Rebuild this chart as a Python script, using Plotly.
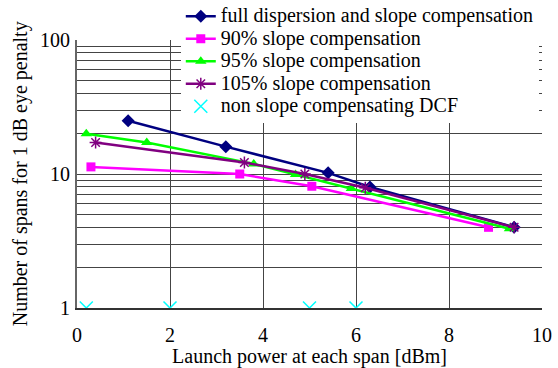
import plotly.graph_objects as go

# Data
full_x = [1.1, 3.2, 5.4, 6.3, 9.4]
full_y = [25, 16, 10.2, 8.0, 4.0]

s90_x = [0.3, 3.5, 5.05, 8.85]
s90_y = [11.3, 10.0, 8.1, 4.0]

s95_x = [0.2, 1.5, 3.8, 4.7, 5.9, 9.3]
s95_y = [20, 17.2, 11.9, 9.9, 7.8, 3.9]

s105_x = [0.4, 3.6, 4.9, 6.2, 9.4]
s105_y = [17.2, 12.2, 10.0, 7.9, 4.0]

dcf_x = [0.2, 2.0, 5.0, 6.0]
dcf_y = [1, 1, 1, 1]

names = ["full dispersion and slope compensation",
         "90% slope compensation",
         "95% slope compensation",
         "105% slope compensation",
         "non slope compensating DCF"]

y_ticks = [1, 2, 3, 4, 5, 6, 7, 8, 9, 10, 20, 30, 40, 50, 60, 70, 80, 90, 100]
y_labels = ["1", "", "", "", "", "", "", "", "", "10", "", "", "", "", "", "", "", "", "100"]
x_ticks = [0, 2, 4, 6, 8, 10]

x_title = "Launch power at each span [dBm]"
y_title = "Number of spans for 1 dB eye penalty"

FONT = "Liberation Serif"
FS = 20


def lg(name):
    return '<span style="font-size:%dpx">%s</span>' % (FS, name)


fig = go.Figure()
fig.add_trace(go.Scatter(x=full_x, y=full_y, mode="lines+markers", name=lg(names[0]),
                         line=dict(color="#000080", width=2.5),
                         marker=dict(symbol="diamond", size=10, color="#000080")))
fig.add_trace(go.Scatter(x=s90_x, y=s90_y, mode="lines+markers", name=lg(names[1]),
                         line=dict(color="#FF00FF", width=2.5),
                         marker=dict(symbol="square", size=9, color="#FF00FF")))
fig.add_trace(go.Scatter(x=s95_x, y=s95_y, mode="lines+markers", name=lg(names[2]),
                         line=dict(color="#00FF00", width=2.5),
                         marker=dict(symbol="triangle-up", size=10, color="#00FF00")))
fig.add_trace(go.Scatter(x=s105_x, y=s105_y, mode="lines+markers", name=lg(names[3]),
                         line=dict(color="#800080", width=2.5),
                         marker=dict(symbol="asterisk-open", size=10, color="#800080",
                                     line=dict(color="#800080", width=1.5))))
fig.add_trace(go.Scatter(x=dcf_x, y=dcf_y, mode="markers", name=lg(names[4]),
                         marker=dict(symbol="x-thin-open", size=13, color="#00FFFF",
                                     line=dict(color="#00FFFF", width=1.5))))

GRID = "#444444"
fig.update_layout(
    width=558, height=368,
    margin=dict(l=77, r=15.5, t=40, b=59.5, autoexpand=False),
    paper_bgcolor="white", plot_bgcolor="white",
    font=dict(family=FONT, size=FS, color="black"),
    showlegend=True,
    legend=dict(xref="container", yref="container", x=0.324, y=1.01,
                xanchor="left", yanchor="top",
                bgcolor="white", font=dict(family=FONT, size=15),
                borderwidth=0, itemwidth=30, tracegroupgap=0),
    xaxis=dict(range=[0, 10], tickvals=x_ticks, showgrid=True, gridcolor=GRID,
               gridwidth=1, showline=True, linecolor="#333333", linewidth=1.5,
               ticks="outside", ticklen=8, tickcolor="white", zeroline=False,
               automargin=False,
               title=dict(text=x_title, font=dict(family=FONT, size=FS)),
               tickfont=dict(family=FONT, size=FS)),
    yaxis=dict(type="log", range=[0, 2], tickvals=y_ticks, ticktext=y_labels,
               showgrid=True, gridcolor=GRID, gridwidth=1,
               showline=True, linecolor="#666666", linewidth=2,
               ticks="outside", ticklen=1, tickcolor="white", zeroline=False,
               automargin=False,
               tickfont=dict(family=FONT, size=FS)),
    annotations=[dict(text=y_title, textangle=-90, xref="paper", yref="paper",
                      x=-0.122, y=0.5, xanchor="center", yanchor="middle",
                      showarrow=False, font=dict(family=FONT, size=FS))],
)

fig.write_html("out.html")
